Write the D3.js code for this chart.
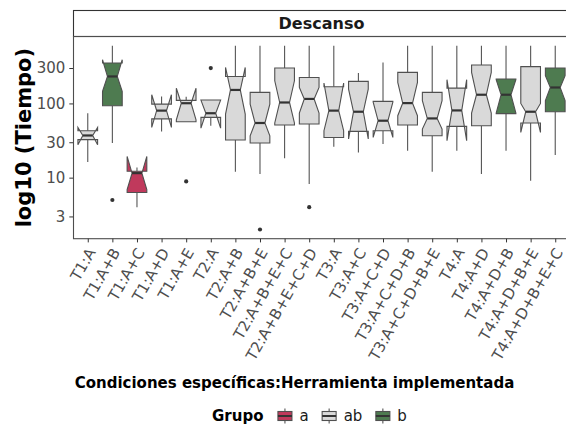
<!DOCTYPE html>
<html>
<head>
<meta charset="utf-8">
<script src="https://cdn.jsdelivr.net/npm/d3@7"></script>
<style>
  body { margin: 0; background: #fff; }
  svg { display: block; font-family: "DejaVu Sans", sans-serif; }
</style>
</head>
<body>
<svg id="chart" width="566" height="428"></svg>
<script>
var categories = ["T1:A", "T1:A+B", "T1:A+C", "T1:A+D", "T1:A+E",
  "T2:A", "T2:A+B", "T2:A+B+E", "T2:A+B+E+C", "T2:A+B+E+C+D",
  "T3:A", "T3:A+C", "T3:A+C+D", "T3:A+C+D+B", "T3:A+C+D+B+E",
  "T4:A", "T4:A+D", "T4:A+D+B", "T4:A+D+B+E", "T4:A+D+B+E+C"];
var groups = ["ab", "b", "a", "ab", "ab", "ab", "ab", "ab", "ab", "ab",
  "ab", "ab", "ab", "ab", "ab", "ab", "ab", "b", "ab", "b"];

// box statistics (seconds)
var whiskerLow  = [16.2, 29.3, 4.0, 42, 56.7, 50.1, 12, 11.2, 18.2, 8.2, 26.1, 21.9, 28.4, 23, 12, 23, 11.2, 23, 9.1, 20.2];
var lowerHinge  = [32.5, 93, 6.3, 62, 56.7, 64.8, 32.1, 29.3, 51.2, 52.8, 34.8, 42, 42.9, 51.2, 36.7, 49, 50.1, 73, 54.5, 77.3];
var medians     = [37, 231, 11.5, 80, 100.7, 73.8, 152, 54.5, 103, 115, 80, 77.3, 58.5, 101, 62.8, 80.5, 131, 131, 77.3, 164];
var upperHinge  = [42.9, 351, 12.2, 98, 110, 111, 231, 141, 300, 224, 168, 198, 106.5, 262, 141, 161, 329, 213, 313, 300];
var whiskerHigh = [74, 600, 13.7, 124, 123, 111, 600, 600, 600, 600, 600, 257, 357, 600, 600, 600, 600, 600, 600, 600];
var notchLow    = [27.8, 145, 6.9, 47.5, 60, 46.4, 72, 36.7, 54.5, 74, 42.9, 33.2, 34.8, 68.4, 45.2, 31.5, 74, 74, 40.7, 109];
var notchHigh   = [47.5, 388, 19.3, 131, 160, 111, 306, 98, 202, 164, 188, 156, 104, 192, 109, 209, 262, 209, 100, 237];
var outliers    = [[], [5.0], [], [], [8.9], [300], [], [2.0], [], [4.0], [], [], [], [], [], [], [], [], [], []];

var yTicks = [3, 10, 30, 100, 300];
var groupNames = ["a", "ab", "b"];
var groupColors = ["#c0395c", "#d9d9d9", "#4e7b50"];

var svg = d3.select("#chart");
var panel = {left: 73, top: 36.5, right: 570, bottom: 238.7};

var data = categories.map(function(c, i) {
  return {cat: c, group: groups[i], wl: whiskerLow[i], q1: lowerHinge[i], med: medians[i],
    q3: upperHinge[i], wh: whiskerHigh[i], nl: notchLow[i], nh: notchHigh[i], out: outliers[i]};
});

// y range like ggplot: 5% expansion on the log scale
var allVals = d3.merge([whiskerLow, whiskerHigh, d3.merge(outliers)]);
var lo = Math.log10(d3.min(allVals)), hi = Math.log10(d3.max(allVals)),
    pad = (hi - lo) * 0.05;

var y = d3.scaleLog()
    .domain([Math.pow(10, lo - pad), Math.pow(10, hi + pad)])
    .range([panel.bottom, panel.top]);

var x = d3.scalePoint()
    .domain(categories)
    .range([panel.left, panel.right])
    .padding(0.6);

var color = d3.scaleOrdinal().domain(groupNames).range(groupColors);
var bw = x.step() * 0.8;

// strip
svg.append("rect")
    .attr("x", panel.left + 0.5).attr("y", 10.5)
    .attr("width", panel.right - panel.left).attr("height", panel.top - 10.5)
    .attr("fill", "#fff").attr("stroke", "#333").attr("stroke-width", 1.1);
svg.append("text")
    .attr("x", (panel.left + panel.right) / 2).attr("y", 23.5)
    .attr("text-anchor", "middle").attr("dominant-baseline", "central")
    .attr("font-size", 16).attr("font-weight", "bold").attr("fill", "#1a1a1a")
    .text("Descanso");

// panel border
svg.append("rect")
    .attr("x", panel.left + 0.5).attr("y", panel.top)
    .attr("width", panel.right - panel.left).attr("height", panel.bottom - panel.top)
    .attr("fill", "none").attr("stroke", "#4d4d4d").attr("stroke-width", 1.1);

var box = svg.append("g").selectAll("g")
    .data(data)
  .enter().append("g");

// whiskers
box.append("line")
    .attr("x1", function(d) { return x(d.cat); }).attr("x2", function(d) { return x(d.cat); })
    .attr("y1", function(d) { return y(d.q3); }).attr("y2", function(d) { return y(d.wh); })
    .attr("stroke", "#555").attr("stroke-width", 1.1);
box.append("line")
    .attr("x1", function(d) { return x(d.cat); }).attr("x2", function(d) { return x(d.cat); })
    .attr("y1", function(d) { return y(d.q1); }).attr("y2", function(d) { return y(d.wl); })
    .attr("stroke", "#555").attr("stroke-width", 1.1);

// notched box
box.append("path")
    .attr("d", function(d) {
      var x0 = x(d.cat) - bw / 2, x1 = x(d.cat) + bw / 2, ind = bw * 0.25;
      var pts = [[x0, y(d.q3)], [x0, y(d.nh)], [x0 + ind, y(d.med)], [x0, y(d.nl)], [x0, y(d.q1)],
                 [x1, y(d.q1)], [x1, y(d.nl)], [x1 - ind, y(d.med)], [x1, y(d.nh)], [x1, y(d.q3)]];
      return "M" + pts.join("L") + "Z";
    })
    .attr("fill", function(d) { return color(d.group); })
    .attr("stroke", "#505050").attr("stroke-width", 1.1).attr("stroke-linejoin", "miter");

// median
box.append("line")
    .attr("x1", function(d) { return x(d.cat) - bw / 4; })
    .attr("x2", function(d) { return x(d.cat) + bw / 4; })
    .attr("y1", function(d) { return y(d.med); }).attr("y2", function(d) { return y(d.med); })
    .attr("stroke", "#333").attr("stroke-width", 2.2);

// outliers
box.selectAll("circle")
    .data(function(d) { return d.out.map(function(v) { return {cat: d.cat, v: v}; }); })
  .enter().append("circle")
    .attr("cx", function(d) { return x(d.cat); })
    .attr("cy", function(d) { return y(d.v); })
    .attr("r", 2.1).attr("fill", "#333");

// y axis
var yAxis = svg.append("g")
    .attr("transform", "translate(" + panel.left + ",0)")
    .call(d3.axisLeft(y).tickValues(yTicks).tickFormat(d3.format("d")).tickSize(3.7).tickPadding(4));
yAxis.select(".domain").remove();
yAxis.selectAll("line").attr("stroke", "#333");
yAxis.selectAll("text").attr("font-size", 15).attr("fill", "#4d4d4d")
    .attr("font-family", "DejaVu Sans");

// x axis
var xAxis = svg.append("g")
    .attr("transform", "translate(0," + panel.bottom + ")")
    .call(d3.axisBottom(x).tickSize(3.7));
xAxis.select(".domain").remove();
xAxis.selectAll("line").attr("stroke", "#333");
xAxis.selectAll("text")
    .attr("y", 0).attr("x", 0).attr("dy", "0.6em")
    .attr("transform", "translate(0,9) rotate(-60)")
    .attr("text-anchor", "end")
    .attr("font-size", 15).attr("fill", "#4d4d4d")
    .attr("font-family", "DejaVu Sans");

// axis titles
svg.append("text")
    .attr("transform", "translate(31," + ((panel.top + panel.bottom) / 2) + ") rotate(-90)")
    .attr("text-anchor", "middle")
    .attr("font-size", 21).attr("font-weight", "bold").attr("fill", "#000")
    .text("log10 (Tiempo)");

svg.append("text")
    .attr("x", 294.5).attr("y", 388)
    .attr("text-anchor", "middle")
    .attr("font-size", 15).attr("font-weight", "bold").attr("fill", "#000")
    .text("Condiciones específicas:Herramienta implementada");

// legend
var legend = svg.append("g").attr("transform", "translate(212,416)");
var lt = legend.append("text")
    .attr("dominant-baseline", "central")
    .attr("font-size", 15).attr("font-weight", "bold").attr("fill", "#000")
    .text("Grupo");
var lx = lt.node().getComputedTextLength() + 14;
groupNames.forEach(function(g) {
  var k = legend.append("g").attr("transform", "translate(" + lx + ",0)");
  k.append("line").attr("x1", 7.5).attr("x2", 7.5).attr("y1", -7.5).attr("y2", 7.5)
      .attr("stroke", "#555").attr("stroke-width", 1.1);
  k.append("rect").attr("x", 0.5).attr("y", -4.5).attr("width", 14).attr("height", 9)
      .attr("fill", color(g)).attr("stroke", "#505050").attr("stroke-width", 1.1);
  k.append("line").attr("x1", 0.5).attr("x2", 14.5).attr("y1", 0).attr("y2", 0)
      .attr("stroke", "#333").attr("stroke-width", 2);
  var t = k.append("text").attr("x", 22).attr("dominant-baseline", "central")
      .attr("font-size", 15).attr("fill", "#1a1a1a").text(g);
  lx += 22 + t.node().getComputedTextLength() + 13;
});
</script>
</body>
</html>
